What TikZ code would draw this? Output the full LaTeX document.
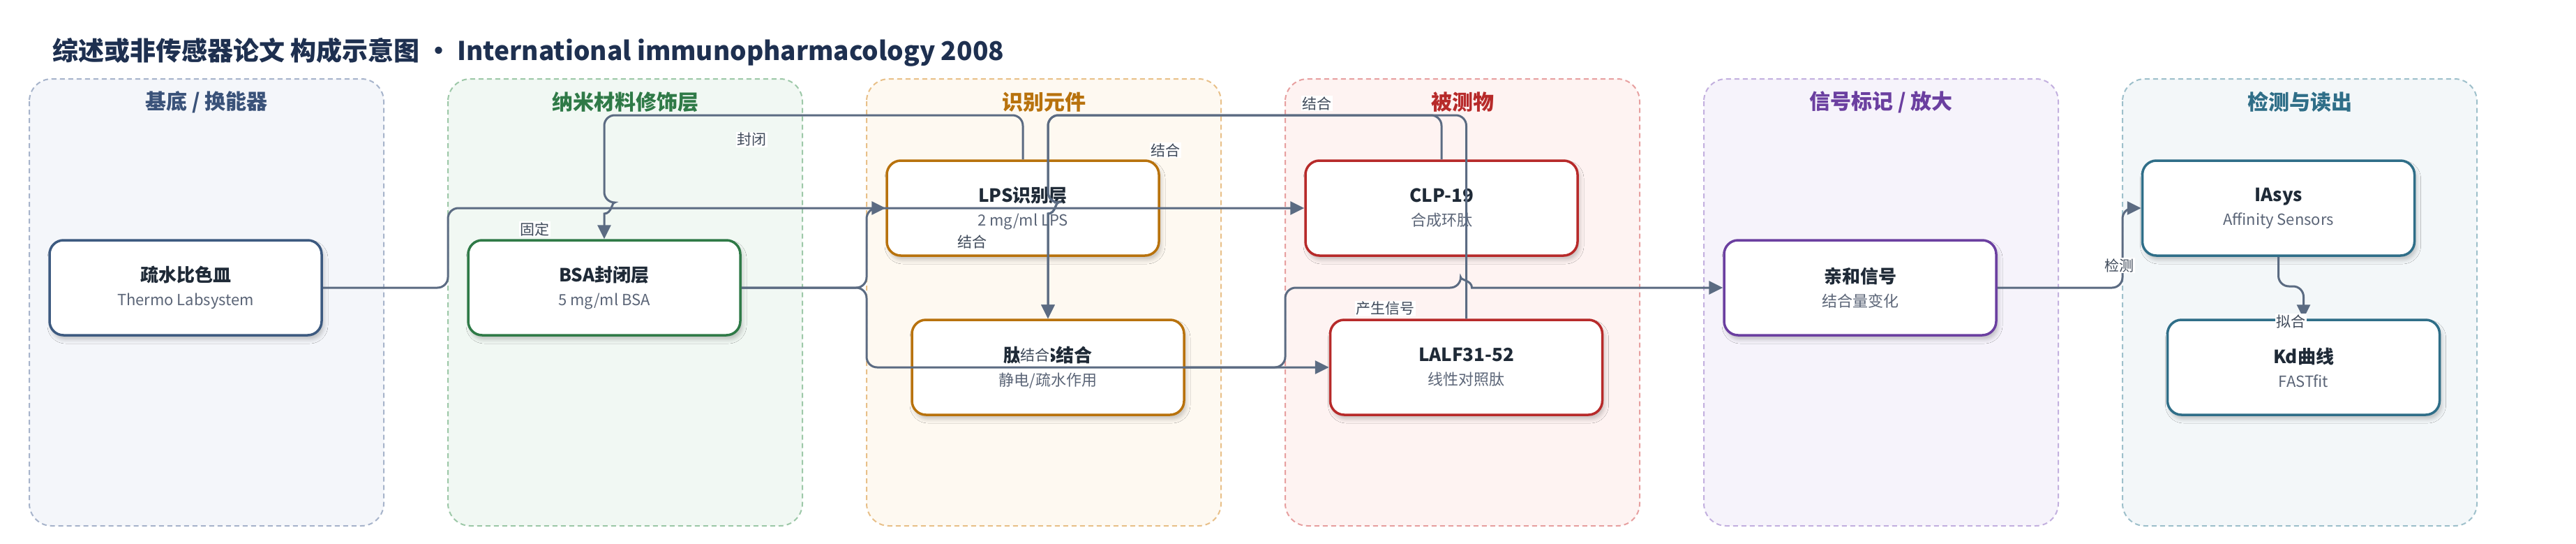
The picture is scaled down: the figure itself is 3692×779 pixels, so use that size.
\documentclass[tikz,border=0pt]{standalone}
\usepackage{fontspec}
\setmainfont{Noto Sans CJK SC}
\usetikzlibrary{arrows.meta,shadows.blur}
% 颜色
\definecolor{edgecol}{HTML}{5B6B82}
\definecolor{titlecol}{HTML}{1E3050}
\definecolor{nodetext}{HTML}{1F2A37}
\definecolor{subtext}{HTML}{5B6577}
\definecolor{labeltext}{HTML}{3F4A5A}
\definecolor{laneAf}{HTML}{F4F6FA}\definecolor{laneAd}{HTML}{A7B4CB}\definecolor{laneAt}{HTML}{3A5279}
\definecolor{laneBf}{HTML}{F1F8F3}\definecolor{laneBd}{HTML}{9DC8A8}\definecolor{laneBt}{HTML}{2F7A47}
\definecolor{laneCf}{HTML}{FEF9F1}\definecolor{laneCd}{HTML}{E8C089}\definecolor{laneCt}{HTML}{B8720D}
\definecolor{laneDf}{HTML}{FEF3F2}\definecolor{laneDd}{HTML}{E7A0A0}\definecolor{laneDt}{HTML}{B72A2A}
\definecolor{laneEf}{HTML}{F6F3FB}\definecolor{laneEd}{HTML}{C3B0DF}\definecolor{laneEt}{HTML}{6B3FA0}
\definecolor{laneFf}{HTML}{F3F7F9}\definecolor{laneFd}{HTML}{9EC0CB}\definecolor{laneFt}{HTML}{2F6E88}
\definecolor{nodeA}{HTML}{3D5A80}
\begin{document}
\begin{tikzpicture}[x=1pt, y=-1pt, >={Triangle[length=20pt,width=19pt]},
  box/.style={draw=#1, line width=3.5pt, fill=white, rounded corners=20pt,
    minimum width=390pt, minimum height=136pt, align=center, text=nodetext,
    font=\fontsize{22}{34}\selectfont,
    blur shadow={shadow xshift=3pt, shadow yshift=-6pt, shadow blur radius=6pt, shadow opacity=22}},
  conn/.style={draw=edgecol, line width=3pt, ->, rounded corners=15pt},
  lbl/.style={fill=white, inner sep=1.5pt, text=labeltext, font=\fontsize{21}{24}\selectfont},
  lanetitle/.style={font=\fontsize{30}{32}\selectfont\bfseries}]
  \useasboundingbox (0,0) rectangle (3692,779);
  \fill[white] (0,0) rectangle (3692,779);

  % Tiêu đề
  \node[anchor=west, inner sep=0pt, text=titlecol, font=\fontsize{37}{40}\selectfont\bfseries] (title) at (75,75)
    {综述或非传感器论文 构成示意图 • International immunopharmacology 2008};

  % 分区
  \foreach \lx/\ltitle/\lf/\ld/\lt in {42/{基底 / 换能器}/laneAf/laneAd/laneAt,
      642/{纳米材料修饰层}/laneBf/laneBd/laneBt,
      1242/{识别元件}/laneCf/laneCd/laneCt,
      1842/{被测物}/laneDf/laneDd/laneDt,
      2442/{信号标记 / 放大}/laneEf/laneEd/laneEt,
      3042/{检测与读出}/laneFf/laneFd/laneFt}{
    \draw[draw=\ld, fill=\lf, line width=2pt, dash pattern=on 7pt off 5pt, rounded corners=32pt]
      (\lx,113) rectangle (\lx+508,753);
    \node[lanetitle, text=\lt] (lt\lx) at (\lx+254,146) {\ltitle};
  }

  % 节点
  \node[box=nodeA] (shui) at (266,412) {{\fontsize{26}{34}\selectfont\bfseries 疏水比色皿}\\\textcolor{subtext}{Thermo Labsystem}};
  \node[box=laneBt] (bsa) at (866,412) {{\fontsize{26}{34}\selectfont\bfseries BSA封闭层}\\\textcolor{subtext}{5 mg/ml BSA}};
  \node[box=laneCt] (lps) at (1466,298) {{\fontsize{26}{34}\selectfont\bfseries LPS识别层}\\\textcolor{subtext}{2 mg/ml LPS}};
  \node[box=laneCt] (tai) at (1502,526) {{\fontsize{26}{34}\selectfont\bfseries 肽LPS结合}\\\textcolor{subtext}{静电/疏水作用}};
  \node[box=laneDt] (clp) at (2066,298) {{\fontsize{26}{34}\selectfont\bfseries CLP-19}\\\textcolor{subtext}{合成环肽}};
  \node[box=laneDt] (lalf) at (2101.5,526) {{\fontsize{26}{34}\selectfont\bfseries LALF31-52}\\\textcolor{subtext}{线性对照肽}};
  \node[box=laneEt] (qinhe) at (2666,412) {{\fontsize{26}{34}\selectfont\bfseries 亲和信号}\\\textcolor{subtext}{结合量变化}};
  \node[box=laneFt] (iasys) at (3265.5,298) {{\fontsize{26}{34}\selectfont\bfseries IAsys}\\\textcolor{subtext}{Affinity Sensors}};
  \node[box=laneFt] (kd) at (3301.5,526) {{\fontsize{26}{34}\selectfont\bfseries Kd曲线}\\\textcolor{subtext}{FASTfit}};

  % 连线
  \draw[conn] (shui.east) -- (642,412) -- (642,298) -- (lps.west);
  \draw[conn] (bsa.east) -- (1242,412) -- (1242,298) -- (clp.west);
  \draw[conn] (bsa.east) -- (1242,412) -- (1242,526) -- (lalf.west);
  \draw[conn] (lps.north) -- (1466,165) -- (866,165) -- (866,290) [sharp corners]
    .. controls (876.7,290) and (876.7,306) .. (866,306) -- (bsa.north);
  \draw[conn] (clp.north) -- (2066,165) -- (1502,165) -- (1502,290) [sharp corners]
    .. controls (1512.7,290) and (1512.7,306) .. (1502,306) -- (tai.north);
  \draw[conn] (lalf.north) -- (2101.5,165) -- (1502,165) -- (1502,290) [sharp corners]
    .. controls (1512.7,290) and (1512.7,306) .. (1502,306) -- (tai.north);
  \draw[conn] (tai.east) -- (1842,526) -- (1842,412) -- (2093.5,412) [sharp corners]
    .. controls (2093.5,401.3) and (2109.5,401.3) .. (2109.5,412) -- (qinhe.west);
  \draw[conn] (qinhe.east) -- (3042,412) -- (3042,298) -- (iasys.west);
  \draw[conn] (iasys.south) -- (3265.5,410) -- (3301.5,410) -- (kd.north);

  % 标签
  \node[lbl] (lbGuding) at (766,328) {固定};
  \node[lbl] (lbFengbi) at (1077,200) {封闭};
  \node[lbl] (lbJieheA) at (1393,346) {结合};
  \node[lbl] (lbJieheB) at (1483,508) {结合};
  \node[lbl] (lbJieheC) at (1670,215) {结合};
  \node[lbl] (lbJieheD) at (1887,148) {结合};
  \node[lbl] (lbXinhao) at (1985,442) {产生信号};
  \node[lbl] (lbJiance) at (3037,380) {检测};
  \node[lbl] (lbNihe) at (3283,460) {拟合};
\end{tikzpicture}
\end{document}
